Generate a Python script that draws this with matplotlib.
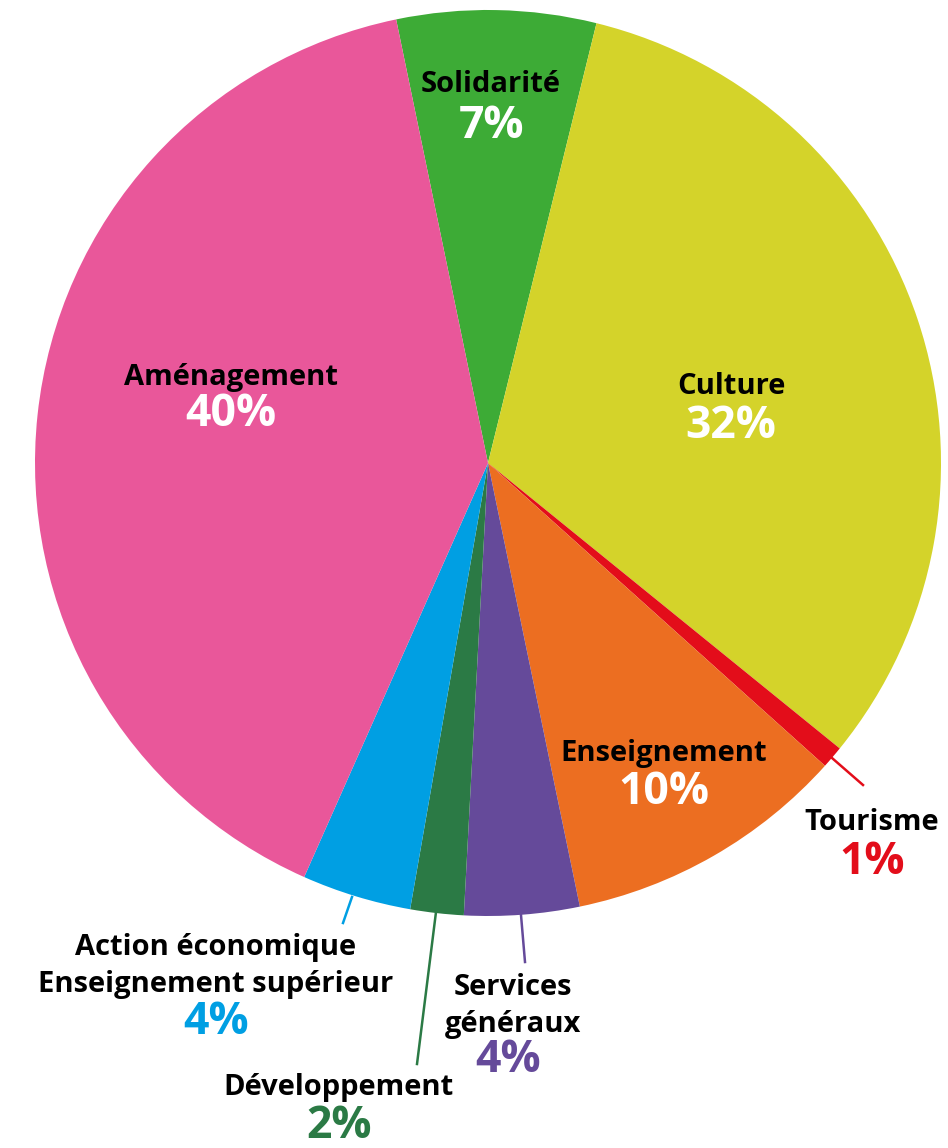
import matplotlib
matplotlib.use("Agg")
import matplotlib.pyplot as plt
import numpy as np

categories = ["Solidarité", "Culture", "Tourisme", "Enseignement", "Services\ngénéraux",
              "Développement", "Action économique\nEnseignement supérieur", "Aménagement"]
values = [7.1, 32.0, 0.8, 10.1, 4.1, 1.9, 3.9, 40.1]
pct_labels = ["7%", "32%", "1%", "10%", "4%", "2%", "4%", "40%"]
colors = ["#3dab36", "#d4d32a", "#e30d1a", "#ec6e21", "#654a9a", "#2b7a45", "#009fe3", "#e9579a"]

W, H = 948, 1148
cx, cy, R = 488, 463, 453

fig = plt.figure(figsize=(W / 100, H / 100), dpi=100)
ax = fig.add_axes([(cx - R) / W, (H - cy - R) / H, 2 * R / W, 2 * R / H])

start = 90 + 11.7
ax.pie(values, colors=colors, startangle=start, counterclock=False, radius=1,
       wedgeprops=dict(linewidth=0))
ax.set_xlim(-1, 1)
ax.set_ylim(-1, 1)
ax.set_aspect("equal")
ax.axis("off")

FONT = "Open Sans"

def P(px, py):
    return (px - cx) / R, (cy - py) / R

layout = {
    "Solidarité": ((491, 85), (491, 126), "white"),
    "Culture": ((731, 387), (731, 427), "white"),
    "Tourisme": ((872, 822), (872, 862), colors[2]),
    "Enseignement": ((664, 753), (664, 793), "white"),
    "Services\ngénéraux": ((513, 1006), (508, 1061), colors[4]),
    "Développement": ((339, 1088), (339, 1127), colors[5]),
    "Action économique\nEnseignement supérieur": ((216, 966), (216, 1022), colors[6]),
    "Aménagement": ((231, 377), (231, 415), "white"),
}

for cat, pct in zip(categories, pct_labels):
    (nx, ny), (qx, qy), pc = layout[cat]
    x, y = P(nx, ny)
    ax.text(x, y, cat, ha="center", va="center", fontsize=21, fontweight="bold",
            family=FONT, color="black", linespacing=1.32, clip_on=False)
    x, y = P(qx, qy)
    ax.text(x, y, pct, ha="center", va="center", fontsize=32, fontweight="bold",
            family=FONT, color=pc, clip_on=False)

leaders = [((832, 758), (863, 785), colors[2]),
           ((521, 915), (525, 962), colors[4]),
           ((436, 912), (417, 1064), colors[5]),
           ((352, 897), (343, 923), colors[6])]
for (x0, y0), (x1, y1), c in leaders:
    a = P(x0, y0); b = P(x1, y1)
    ax.plot([a[0], b[0]], [a[1], b[1]], color=c, lw=1.8, clip_on=False)

fig.savefig("out.png", dpi=100, facecolor="white")
